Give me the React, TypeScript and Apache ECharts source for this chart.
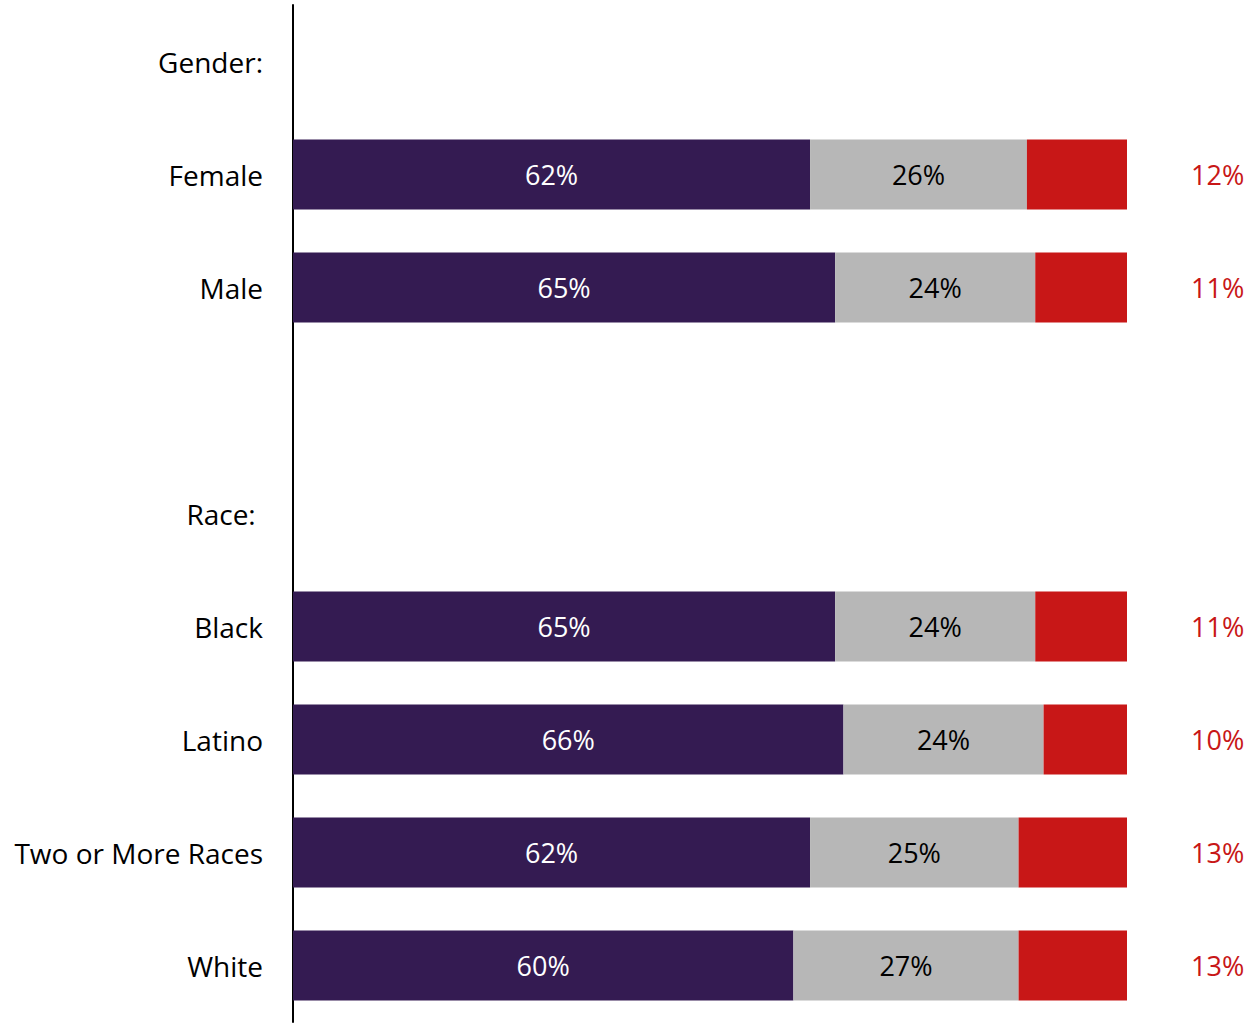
import React, { useEffect, useRef } from "react";
import * as echarts from "echarts";

const categories = ["Gender:", "Female", "Male", "", "Race: ", "Black", "Latino", "Two or More Races", "White"];
const positive = [null, 62, 65, null, null, 65, 66, 62, 60];
const neutral = [null, 26, 24, null, null, 24, 24, 25, 27];
const negative = [null, 12, 11, null, null, 11, 10, 13, 13];

const FONT = "Open Sans";
const SIZE = 28;

export default function App() {
  const ref = useRef<HTMLDivElement>(null);
  useEffect(() => {
    if (!ref.current) return;
    const chart = echarts.init(ref.current, null, { renderer: "svg" });
    const toData = (arr: (number | null)[]) => arr.map((v) => (v === null ? "-" : v));
    chart.setOption({
      animation: false,
      grid: { left: 293, right: 121, top: 5, bottom: 1, containLabel: false },
      xAxis: { type: "value", min: 0, max: 100, show: false },
      yAxis: {
        type: "category",
        data: categories,
        inverse: true,
        axisLine: { show: true, lineStyle: { color: "#000", width: 2 } },
        axisTick: { show: false },
        axisLabel: { color: "#000", fontSize: SIZE, fontFamily: FONT, margin: 30, padding: [0, 0, 8, 0] },
      },
      series: [
        {
          type: "bar",
          stack: "s",
          barWidth: 70,
          data: toData(positive),
          itemStyle: { color: "#341B52" },
          label: { show: true, position: "inside", color: "#fff", fontSize: SIZE - 1, fontFamily: FONT, formatter: "{c}%" },
        },
        {
          type: "bar",
          stack: "s",
          barWidth: 70,
          data: toData(neutral),
          itemStyle: { color: "#B7B7B7" },
          label: { show: true, position: "inside", color: "#000", fontSize: SIZE - 1, fontFamily: FONT, formatter: "{c}%" },
        },
        {
          type: "bar",
          stack: "s",
          barWidth: 70,
          data: toData(negative),
          itemStyle: { color: "#C81717" },
          label: { show: true, position: "right", distance: 64, color: "#C81717", fontSize: SIZE - 1, fontFamily: FONT, formatter: "{c}%" },
        },
      ],
    });
    return () => chart.dispose();
  }, []);
  return <div ref={ref} style={{ width: 1248, height: 1023, position: "absolute", left: 0, top: 0 }} />;
}
